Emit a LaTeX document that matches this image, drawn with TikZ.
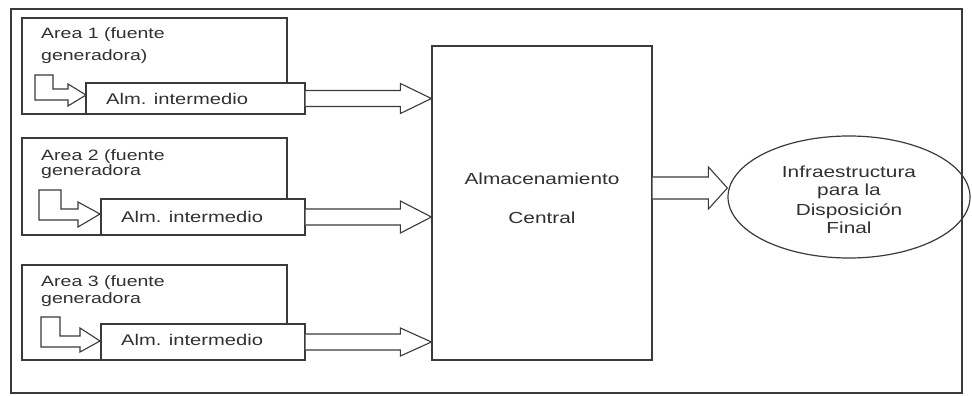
\documentclass[tikz,border=0pt]{standalone}
\usepackage{fontspec}
\setmainfont{Liberation Sans}[FakeStretch=1.3]
\usetikzlibrary{calc,shapes.geometric}
\definecolor{ink}{HTML}{3A3A3A}
\definecolor{txtc}{HTML}{303030}
\tikzset{
  box/.style={draw=ink, line width=1.2pt, fill=white, inner sep=0pt, rectangle},
  frame/.style={draw=ink, line width=1.4pt},
  fat/.style={draw=ink, line width=1.1pt, fill=white, line join=miter},
  ltxt/.style={text=txtc, inner sep=0pt, anchor=base west, font=\fontsize{15}{18}\selectfont},
  atxt/.style={text=txtc, inner sep=0pt, anchor=base west, font=\fontsize{15.5}{18}\selectfont},
  ctxt/.style={text=txtc, inner sep=0pt, anchor=base, font=\fontsize{16}{18}\selectfont},
}
\newcommand\fatarrow[5]{%
  \draw[fat] ($(#1)+(0,-#3)$) -- ($(#2)+(-#5,-#3)$) -- ($(#2)+(-#5,-#4)$) -- (#2)
    -- ($(#2)+(-#5,#4)$) -- ($(#2)+(-#5,#3)$) -- ($(#1)+(0,#3)$);}
\begin{document}
\begin{tikzpicture}[x=1pt,y=-1pt]
\useasboundingbox (0,0) rectangle (972,396);
\draw[frame] (11,9) rectangle (962,393);

% area boxes
\node[box, minimum width=265pt, minimum height=96pt] (area1) at (154.5,66) {};
\node[box, minimum width=265pt, minimum height=97pt] (area2) at (154.5,186.5) {};
\node[box, minimum width=265pt, minimum height=95pt] (area3) at (154.5,312.5) {};

\node[ltxt] (a1l1) at (41,39) {Area 1 (fuente};
\node[ltxt] (a1l2) at (41,60) {generadora)};
\node[ltxt] (a2l1) at (41,160) {Area 2 (fuente};
\node[ltxt] (a2l2) at (41,175) {generadora};
\node[ltxt] (a3l1) at (41,286) {Area 3 (fuente};
\node[ltxt] (a3l2) at (41,303) {generadora};

% small L arrows
\draw[fat] (35,75) -- (53,75) -- (53,89) -- (68,89) -- (68,84) -- (86,95) -- (68,106) -- (68,100) -- (35,100) -- cycle;
\draw[fat] (39,190) -- (61,190) -- (61,209) -- (78,209) -- (78,202) -- (100,214) -- (78,227) -- (78,220) -- (39,220) -- cycle;
\draw[fat] (41,317) -- (60,317) -- (60,336) -- (80,336) -- (80,328) -- (100,341) -- (80,352) -- (80,347) -- (41,347) -- cycle;

% intermediate storage boxes
\node[box, minimum width=219pt, minimum height=31pt] (alm1) at (195.5,98.5) {};
\node[box, minimum width=204pt, minimum height=36pt] (alm2) at (203,217) {};
\node[box, minimum width=204pt, minimum height=36pt] (alm3) at (203,342) {};
\node[atxt] (t1) at (106,104) {Alm. intermedio};
\node[atxt] (t2) at (121,222) {Alm. intermedio};
\node[atxt] (t3) at (121,345) {Alm. intermedio};

% central storage
\node[box, minimum width=220pt, minimum height=314pt] (central) at (542,203) {};
\node[ctxt] (c1) at (542,184) {Almacenamiento};
\node[ctxt] (c2) at (542,223) {Central};

% final disposal
\node[draw=ink, line width=1.2pt, ellipse, inner sep=0pt, minimum width=242pt, minimum height=122pt] (ell) at (849,197) {};
\node[ctxt] (e1) at (849,177) {Infraestructura};
\node[ctxt] (e2) at (849,195) {para la};
\node[ctxt] (e3) at (849,215) {Disposición};
\node[ctxt] (e4) at (849,233) {Final};

% big arrows
\fatarrow{alm1.east}{alm1.east -| central.west}{8}{15}{31}
\fatarrow{alm2.east}{alm2.east -| central.west}{8}{16}{31}
\fatarrow{alm3.east}{alm3.east -| central.west}{8}{14}{31}
\coordinate (c4) at ($(central.east)+(0,-15)$);
\fatarrow{c4}{c4 -| ell.west}{11}{21}{19}
\end{tikzpicture}
\end{document}
